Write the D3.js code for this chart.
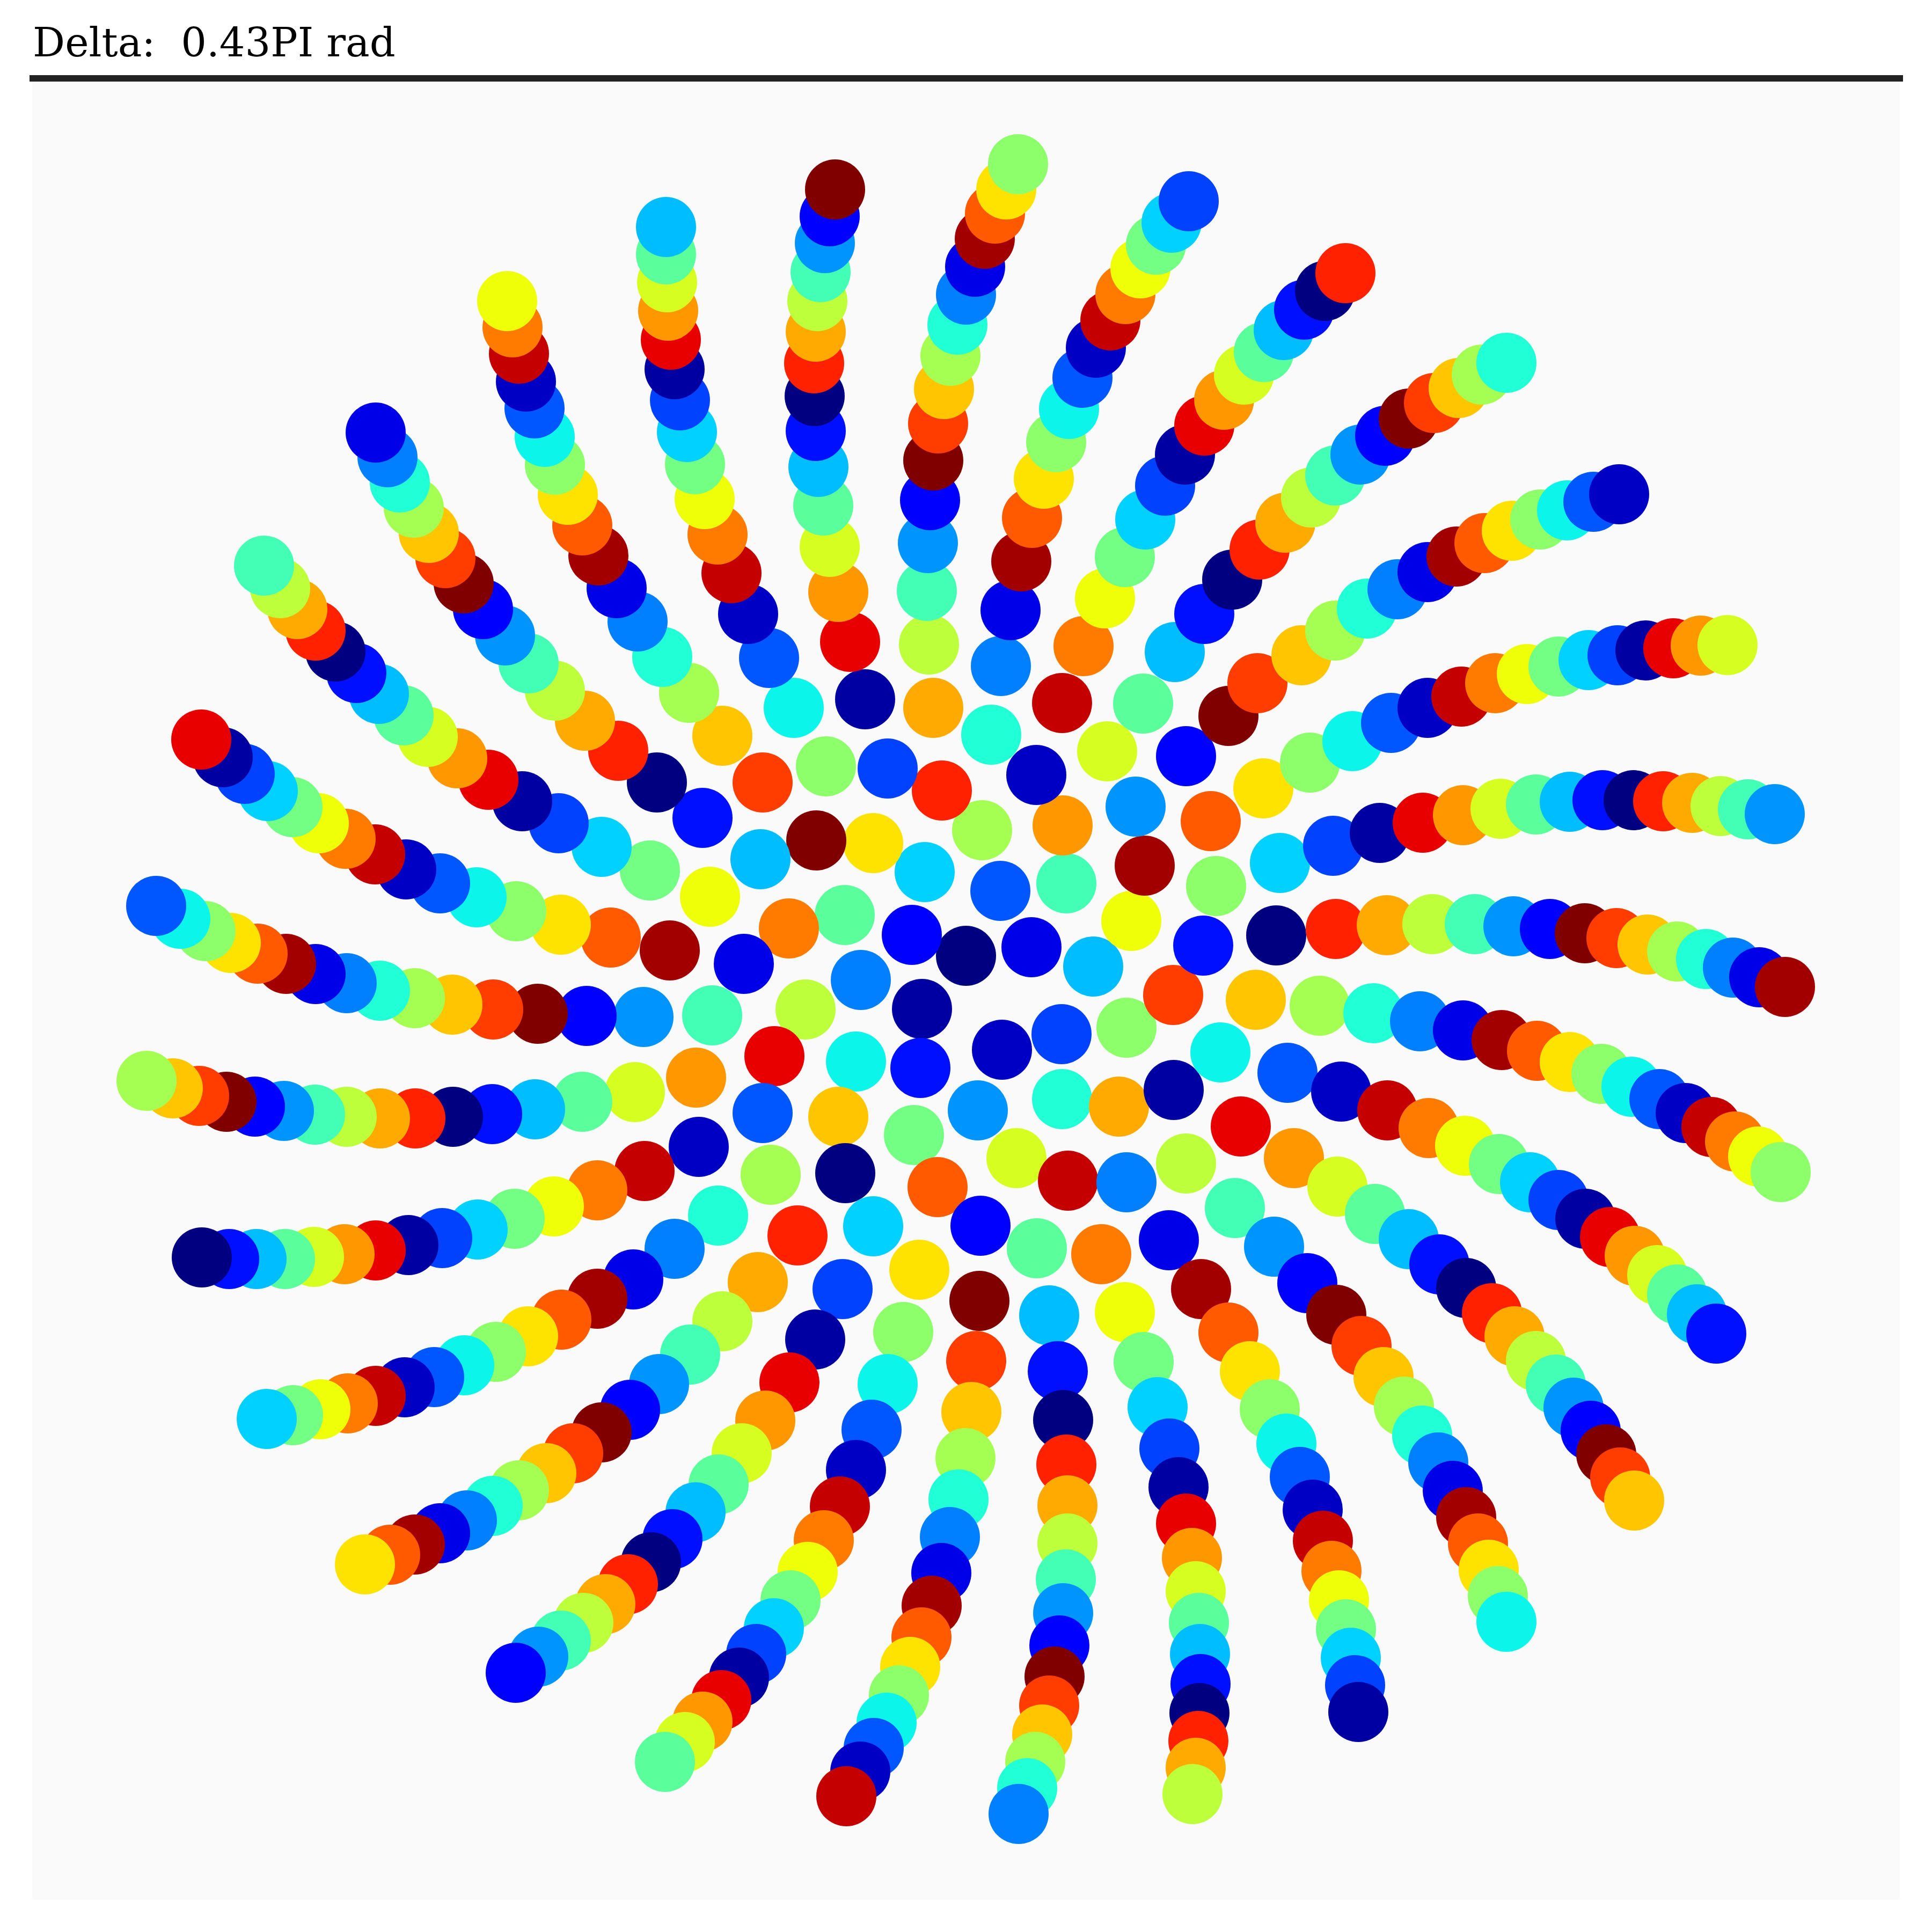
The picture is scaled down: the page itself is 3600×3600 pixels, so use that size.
<!DOCTYPE html>
<html>
<head>
<meta charset="utf-8">
<script src="https://cdn.jsdelivr.net/npm/d3@7"></script>
<style>
  body { margin: 0; background: #ffffff; }
  svg { display: block; }
</style>
</head>
<body>
<svg id="chart"></svg>
<script>
// title over the panel
const titleText = "Delta:  0.43PI rad";

// point positions, one line per spiral arm (outer -> inner),
// the last block is the loose core in the middle
const pointX = [
  -13.08,-12.78,-12.46,-12.12,-11.75,-11.36,-10.94,-10.48,-10.03,-9.48,-8.90,-8.27,-7.59,-6.79,-5.89,
  -11.00,-10.78,-10.55,-10.29,-10.01,-9.70,-9.36,-9.00,-8.59,-8.15,-7.66,-7.10,-6.48,-5.76,
  -8.55,-8.45,-8.33,-8.20,-8.04,-7.85,-7.66,-7.42,-7.15,-6.85,-6.51,-6.12,-5.66,-5.16,
  -5.59,-5.59,-5.57,-5.55,-5.50,-5.43,-5.33,-5.20,-5.05,-4.87,-4.63,-4.37,-4.06,-3.67,
  -2.44,-2.54,-2.63,-2.71,-2.77,-2.80,-2.83,-2.82,-2.80,-2.75,-2.66,-2.54,-2.38,-2.16,
  0.97,0.75,0.54,0.35,0.17,0.00,-0.16,-0.29,-0.41,-0.52,-0.61,-0.67,-0.71,-0.73,-0.69,
  4.15,3.83,3.54,3.25,2.97,2.69,2.42,2.17,1.92,1.68,1.45,1.23,1.03,0.83,0.65,
  7.07,6.69,6.30,5.92,5.55,5.18,4.81,4.44,4.08,3.71,3.34,2.96,2.59,2.19,
  10.07,9.61,9.18,8.72,8.25,7.81,7.35,6.88,6.43,5.95,5.47,4.96,4.44,3.89,
  12.17,11.69,11.20,10.70,10.17,9.66,9.14,8.60,8.04,7.47,6.88,6.25,5.43,
  14.19,13.69,13.18,12.66,12.14,11.60,11.04,10.45,9.86,9.23,8.60,7.92,7.20,6.41,
  15.07,14.57,14.06,13.53,12.99,12.44,11.86,11.25,10.62,9.96,9.26,8.51,7.71,6.84,5.85,
  15.26,14.78,14.29,13.79,13.25,12.70,12.12,11.53,10.88,10.20,9.48,8.69,7.84,6.89,5.78,
  15.18,14.76,14.33,13.89,13.41,12.92,12.40,11.84,11.25,10.64,9.98,9.26,8.46,7.59,6.59,
  13.98,13.62,13.25,12.88,12.46,12.00,11.54,11.04,10.51,9.93,9.30,8.62,7.85,6.99,5.99,
  12.45,12.19,11.93,11.64,11.32,10.99,10.62,10.22,9.80,9.32,8.82,8.25,7.62,6.92,6.11,
  10.07,9.91,9.74,9.54,9.32,9.07,8.80,8.50,8.16,7.78,7.37,6.90,6.36,5.74,
  7.31,7.25,7.17,7.08,6.95,6.81,6.65,6.46,6.22,5.97,5.66,5.29,4.89,4.38,
  4.22,4.28,4.33,4.35,4.37,4.36,4.34,4.28,4.21,4.10,3.96,3.79,3.57,3.31,2.96,
  0.98,1.14,1.29,1.42,1.55,1.65,1.74,1.81,1.86,1.89,1.89,1.87,1.81,1.71,1.55,
  -2.23,-1.97,-1.72,-1.48,-1.25,-1.04,-0.83,-0.64,-0.46,-0.30,-0.14,-0.01,0.10,0.19,0.25,
  -5.61,-5.24,-4.91,-4.56,-4.23,-3.91,-3.58,-3.27,-2.95,-2.65,-2.35,-2.05,-1.76,-1.46,-1.17,
  -8.39,-7.97,-7.55,-7.13,-6.72,-6.30,-5.87,-5.47,-5.04,-4.61,-4.18,-3.74,-3.29,-2.81,-2.30,
  -11.20,-10.73,-10.27,-9.80,-9.30,-8.82,-8.33,-7.82,-7.32,-6.79,-6.26,-5.72,-5.14,-4.54,-3.88,
  -13.03,-12.54,-12.03,-11.52,-11.00,-10.46,-9.91,-9.35,-8.76,-8.16,-7.54,-6.87,-6.20,-5.43,
  -14.24,-13.73,-13.22,-12.69,-12.15,-11.58,-11.00,-10.39,-9.76,-9.10,-8.41,-7.68,-6.87,-5.99,
  -15.27,-14.78,-14.29,-13.78,-13.25,-12.71,-12.13,-11.54,-10.92,-10.26,-9.56,-8.83,-8.03,-7.15,-6.17,
  -15.09,-14.64,-14.17,-13.70,-13.20,-12.67,-12.12,-11.54,-10.92,-10.27,-9.57,-8.81,-7.98,-7.07,-6.01,
  -14.25,-13.85,-13.44,-13.01,-12.55,-12.06,-11.56,-11.01,-10.43,-9.80,-9.12,-8.38,-7.55,-6.62,-5.52,
  // core
  -4.91,-4.77,-4.14,-4.73,-5.03,-4.98,-4.62,-4.54,-3.79,-3.83,
  -3.30,-2.99,-3.57,-3.79,-3.64,-3.14,-3.21,-2.61,-2.79,-1.73,
  -2.26,-1.96,-2.05,-2.38,-2.25,-1.73,-1.88,-1.46,-0.61,-0.45,
  -0.77,-1.01,-0.82,-0.85,-0.97,-0.53,-0.87,0.47,1.31,0.30,
  0.64,0.00,1.22,0.67,0.22,0.94,0.27,1.32,1.79,2.63,
  1.80,1.87,2.37,1.78,1.79,2.85,1.90,2.52,3.30,3.16,
  3.33,3.08,3.86,2.99,3.87,2.99,4.10,3.78,4.10,4.89,
  5.54,4.56,4.66,4.42,5.40,4.74,5.12,5.01
];

const pointY = [
  7.86,7.44,7.05,6.65,6.26,5.86,5.47,5.07,4.67,4.27,3.87,3.47,3.06,2.62,2.18,
  10.34,9.88,9.41,8.94,8.47,8.00,7.53,7.05,6.56,6.04,5.53,4.97,4.41,3.82,
  12.79,12.30,11.81,11.29,10.79,10.26,9.74,9.18,8.61,8.05,7.44,6.82,6.16,5.49,
  14.17,13.66,13.14,12.61,12.07,11.52,10.94,10.35,9.75,9.10,8.44,7.72,6.96,6.14,
  14.87,14.37,13.87,13.33,12.79,12.22,11.63,11.02,10.37,9.70,8.98,8.21,7.37,6.44,
  15.34,14.87,14.42,13.95,13.43,12.91,12.35,11.77,11.15,10.51,9.82,9.08,8.28,7.39,6.39,
  14.65,14.25,13.84,13.40,12.92,12.43,11.92,11.36,10.78,10.16,9.48,8.75,7.94,7.03,5.99,
  13.31,12.98,12.63,12.25,11.84,11.42,10.95,10.47,9.93,9.35,8.72,8.02,7.25,6.36,
  11.64,11.42,11.17,10.89,10.60,10.28,9.93,9.54,9.13,8.66,8.16,7.60,6.96,6.25,
  9.19,9.05,8.89,8.72,8.51,8.28,8.03,7.74,7.42,7.06,6.65,6.19,5.67,
  6.38,6.37,6.32,6.28,6.19,6.10,5.98,5.84,5.67,5.42,5.21,4.93,4.59,4.19,
  3.23,3.32,3.38,3.44,3.47,3.49,3.49,3.46,3.41,3.33,3.21,3.07,2.88,2.64,2.32,
  0.01,0.19,0.37,0.53,0.67,0.80,0.92,1.01,1.09,1.14,1.18,1.18,1.16,1.09,0.97,
  -3.44,-3.15,-2.87,-2.60,-2.34,-2.08,-1.85,-1.61,-1.39,-1.18,-0.98,-0.80,-0.63,-0.48,-0.34,
  -6.45,-6.09,-5.72,-5.36,-5.00,-4.65,-4.31,-3.96,-3.63,-3.29,-2.95,-2.62,-2.29,-1.94,-1.59,
  -9.56,-9.13,-8.70,-8.26,-7.83,-7.40,-6.96,-6.50,-6.07,-5.60,-5.16,-4.69,-4.22,-3.71,-3.18,
  -11.82,-11.34,-10.85,-10.36,-9.87,-9.38,-8.85,-8.35,-7.81,-7.26,-6.68,-6.10,-5.51,-4.83,
  -13.50,-13.00,-12.49,-11.96,-11.42,-10.87,-10.31,-9.73,-9.12,-8.50,-7.86,-7.15,-6.43,-5.62,
  -15.03,-14.54,-14.04,-13.52,-12.98,-12.42,-11.84,-11.25,-10.63,-9.99,-9.31,-8.59,-7.82,-6.98,-6.05,
  -15.40,-14.92,-14.43,-13.92,-13.38,-12.84,-12.26,-11.66,-11.03,-10.36,-9.65,-8.89,-8.06,-7.15,-6.11,
  -15.07,-14.61,-14.17,-13.70,-13.19,-12.66,-12.11,-11.52,-10.91,-10.24,-9.54,-8.77,-7.91,-6.96,-5.84,
  -14.43,-14.06,-13.68,-13.28,-12.86,-12.42,-11.94,-11.42,-10.89,-10.30,-9.67,-8.99,-8.24,-7.39,-6.42,
  -12.77,-12.47,-12.17,-11.84,-11.49,-11.12,-10.71,-10.28,-9.78,-9.26,-8.68,-8.07,-7.36,-6.56,-5.62,
  -10.75,-10.57,-10.38,-10.17,-9.93,-9.66,-9.37,-9.05,-8.68,-8.29,-7.87,-7.39,-6.84,-6.22,-5.49,
  -8.04,-7.97,-7.86,-7.75,-7.61,-7.45,-7.26,-7.04,-6.79,-6.50,-6.19,-5.80,-5.44,-4.87,
  -5.03,-5.06,-5.06,-5.06,-5.02,-4.97,-4.90,-4.80,-4.67,-4.51,-4.31,-4.08,-3.78,-3.42,
  -1.74,-1.88,-2.02,-2.13,-2.22,-2.30,-2.37,-2.41,-2.44,-2.44,-2.41,-2.36,-2.27,-2.13,-1.95,
  1.52,1.28,1.05,0.83,0.63,0.44,0.25,0.08,-0.06,-0.20,-0.32,-0.41,-0.49,-0.53,-0.55,
  4.62,4.29,3.98,3.66,3.36,3.06,2.77,2.48,2.20,1.94,1.68,1.42,1.17,0.93,0.69,
  // core
  3.16,1.69,0.44,-0.52,-1.68,-2.97,-4.25,4.69,3.82,2.39,
  1.10,-0.41,-1.28,-2.34,-3.49,-4.62,5.21,4.12,2.74,2.69,
  1.35,0.14,-1.38,-2.41,-3.46,-4.45,5.37,4.08,5.21,3.67,
  2.15,0.98,-0.40,-1.50,-2.75,-3.72,-5.26,4.71,3.96,2.93,
  1.80,0.59,0.75,-1.16,-2.29,-3.18,-4.44,-4.86,5.30,4.40,
  3.02,1.94,0.39,-0.87,-2.08,-2.22,-3.60,-4.97,5.29,3.37,
  2.27,1.24,-0.14,-0.75,-1.91,-3.63,-3.28,-4.71,4.31,5.06,
  3.71,3.10,1.89,0.78,-0.23,-1.21,-2.59,-4.11
];

// colour of each point as a position on the jet map (0 navy ... 1 dark red)
const pointValue = [
  .43,.58,.73,.875,0,.14,.31,.46,.61,.75,.91,.03,.19,.33,.49,
  .09,.25,.39,.55,.70,.845,1,.12,.27,.43,.58,.73,.875,0,
  .64,.78,.94,.06,.21,.365,.52,.67,.815,.97,.09,.25,.39,.55,
  .31,.46,.61,.75,.91,.03,.19,.33,.49,.64,.78,.94,.06,.21,
  1,.12,.27,.43,.58,.73,.875,0,.14,.31,.46,.61,.75,.91,
  .52,.67,.815,.97,.09,.25,.39,.55,.70,.845,1,.12,.27,.43,.58,
  .19,.33,.49,.64,.78,.94,.06,.21,.365,.52,.67,.815,.97,.09,.25,
  .875,0,.14,.31,.46,.61,.75,.91,.03,.19,.33,.49,.64,.78,
  .39,.55,.70,.845,1,.12,.27,.43,.58,.73,.875,0,.14,.31,
  .06,.21,.365,.52,.67,.815,.97,.09,.25,.39,.55,.70,.845,
  .61,.75,.91,.03,.19,.33,.49,.64,.78,.94,.06,.21,.365,.52,
  .27,.43,.58,.73,.875,0,.14,.31,.46,.61,.75,.91,.03,.19,.33,
  .97,.09,.25,.39,.55,.70,.845,1,.12,.27,.43,.58,.73,.875,0,
  .52,.64,.78,.94,.06,.21,.365,.52,.67,.815,.97,.09,.25,.39,.55,
  .14,.31,.46,.61,.75,.91,.03,.19,.33,.49,.64,.78,.94,.06,.21,
  .70,.845,1,.12,.27,.43,.58,.73,.875,0,.14,.31,.46,.61,.75,
  .365,.52,.67,.815,.97,.09,.25,.39,.55,.70,.845,1,.12,.27,
  .03,.19,.33,.49,.64,.78,.94,.06,.21,.365,.52,.67,.815,.97,
  .58,.73,.875,0,.14,.31,.46,.61,.75,.91,.03,.19,.33,.49,.64,
  .25,.39,.55,.70,.845,1,.12,.27,.43,.58,.73,.875,0,.14,.31,
  .94,.06,.21,.365,.52,.67,.815,.97,.09,.25,.39,.55,.70,.845,1,
  .46,.61,.75,.91,.03,.19,.33,.49,.64,.78,.94,.06,.21,.365,.52,
  .12,.27,.43,.58,.73,.875,0,.14,.31,.46,.61,.75,.91,.03,.19,
  .67,.815,.97,.09,.25,.39,.55,.70,.845,1,.12,.27,.43,.58,.73,
  .33,.49,.64,.78,.94,.06,.21,.365,.52,.67,.815,.97,.09,.25,
  0,.14,.31,.46,.61,.75,.91,.03,.19,.33,.49,.64,.78,.94,
  .55,.70,.845,1,.12,.27,.43,.58,.73,.875,0,.14,.31,.46,.61,
  .21,.365,.52,.67,.815,.97,.09,.25,.39,.55,.70,.845,1,.12,.27,
  .91,.03,.19,.33,.49,.64,.78,.94,.06,.21,.365,.52,.67,.815,.97,
  // core
  .14,.64,.09,.43,.75,.06,.39,.70,.845,.31,
  .78,.58,.91,.21,.55,.875,.365,.52,1,.67,
  .46,.25,.365,.70,0,.33,.03,.19,.73,.875,
  .33,.12,.03,.14,.49,.815,.67,.39,.06,.55,
  .21,0,.09,.06,.27,.61,.12,.46,.94,.61,
  .75,.43,.31,.19,.39,.73,.94,.78,.46,.27,
  .97,.64,.845,.52,.03,.25,.58,.09,.12,1,
  .67,.815,.52,.14,.70,.365,.91,.43
];

if (pointX.length !== pointY.length || pointX.length !== pointValue.length) {
  console.warn("point arrays differ", pointX.length, pointY.length, pointValue.length);
}

var width = 3600, height = 3600;
var panel = {left: 60, right: 3540, top: 146, bottom: 3540};

var svg = d3.select("#chart")
    .attr("width", width)
    .attr("height", height);

// scales
var x = d3.scaleLinear().domain([-17.4, 17.4]).range([panel.left, panel.right]);
var y = d3.scaleLinear().domain([-17.0, 16.94]).range([panel.bottom, panel.top]);

// jet colour map, channel by channel (matplotlib segment data)
var jetR = d3.scaleLinear().domain([0, 0.35, 0.66, 0.89, 1]).range([0, 0, 1, 1, 0.5]).clamp(true);
var jetG = d3.scaleLinear().domain([0, 0.125, 0.375, 0.64, 0.91, 1]).range([0, 0, 1, 1, 0, 0]).clamp(true);
var jetB = d3.scaleLinear().domain([0, 0.11, 0.34, 0.65, 1]).range([0.5, 1, 1, 0, 0]).clamp(true);
function jet(v) {
  return d3.rgb(jetR(v) * 255, jetG(v) * 255, jetB(v) * 255).formatHex();
}

// panel background
svg.append("rect")
    .attr("x", panel.left)
    .attr("y", panel.top)
    .attr("width", panel.right - panel.left)
    .attr("height", panel.bottom - panel.top)
    .attr("fill", "#fafafa");

// inner points first so the outer ones sit on top, like the original
var order = d3.range(pointX.length).sort(function(a, b) {
  return d3.ascending(Math.hypot(pointX[a], pointY[a]), Math.hypot(pointX[b], pointY[b]));
});

svg.append("g")
  .selectAll("circle")
  .data(order)
  .join("circle")
    .attr("cx", function(i) { return x(pointX[i]); })
    .attr("cy", function(i) { return y(pointY[i]); })
    .attr("r", 56)
    .attr("fill", function(i) { return jet(pointValue[i]); });

// thick rule along the top of the panel
svg.append("line")
    .attr("x1", panel.left - 5)
    .attr("x2", panel.right + 6)
    .attr("y1", panel.top)
    .attr("y2", panel.top)
    .attr("stroke", "#222222")
    .attr("stroke-width", 12);

svg.append("text")
    .attr("x", 61)
    .attr("y", 105)
    .attr("font-family", "'DejaVu Serif', serif")
    .attr("font-size", 75)
    .attr("fill", "#000000")
    .style("white-space", "pre")
    .text(titleText);
</script>
</body>
</html>
